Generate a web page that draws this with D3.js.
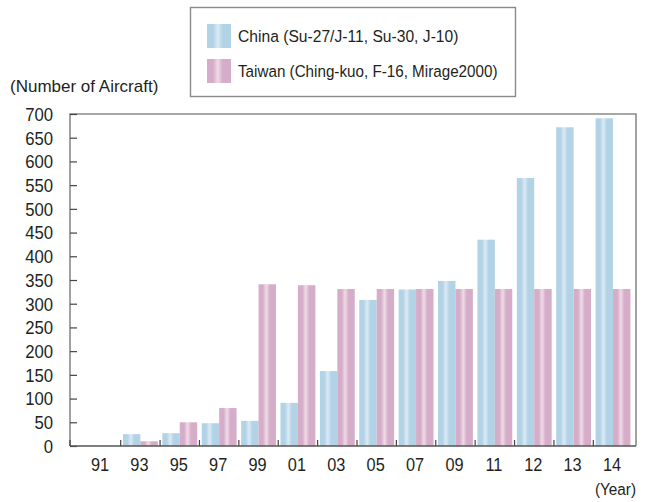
<!DOCTYPE html>
<html>
<head>
<meta charset="utf-8">
<script src="https://cdn.jsdelivr.net/npm/d3@7"></script>
<style>
  html, body { margin: 0; padding: 0; background: #fff; }
  svg { display: block; }
  text { font-family: "Liberation Sans", Arial, sans-serif; fill: #231f20; }
</style>
</head>
<body>
<svg id="chart" width="650" height="502"></svg>
<script>
// Fighter aircraft counts by year
const years = ["91", "93", "95", "97", "99", "01", "03", "05", "07", "09", "11", "12", "13", "14"];
const chinaValues  = [0, 25, 27, 48, 53, 91, 158, 308, 330, 348, 435, 565, 672, 691];
const taiwanValues = [0, 10, 50, 80, 341, 339, 331, 331, 331, 331, 331, 331, 331, 331];
const seriesNames = ["China (Su-27/J-11, Su-30, J-10)", "Taiwan (Ching-kuo, F-16, Mirage2000)"];
const yTicks = d3.range(0, 701, 50);

const svg = d3.select("#chart");
const frame = { left: 70, right: 636, top: 114, bottom: 446 };
const bandLeft = 81.3, bandRight = 632.7;

// Condensed look: squeeze text horizontally around its anchor point
function placeText(sel, px, py, sx) {
  return sel.attr("x", 0).attr("y", 0)
    .attr("transform", `translate(${px},${py}) scale(${sx},1)`);
}

// Gradients: darker edges, lighter centre stripe
const defs = svg.append("defs");
function makeGradient(id, edge, mid) {
  const g = defs.append("linearGradient").attr("id", id)
    .attr("x1", "0%").attr("x2", "100%").attr("y1", "0%").attr("y2", "0%");
  g.append("stop").attr("offset", "0%").attr("stop-color", edge);
  g.append("stop").attr("offset", "25%").attr("stop-color", edge);
  g.append("stop").attr("offset", "45%").attr("stop-color", mid);
  g.append("stop").attr("offset", "65%").attr("stop-color", edge);
  g.append("stop").attr("offset", "100%").attr("stop-color", edge);
}
makeGradient("gChina", "#b2d2e6", "#dbeaf4");
makeGradient("gTaiwan", "#d5adc9", "#efdbe8");
const fills = ["url(#gChina)", "url(#gTaiwan)"];

const x = d3.scaleBand().domain(years).range([bandLeft, bandRight]).paddingInner(0).paddingOuter(0);
const xs = d3.scaleBand().domain([0, 1]).range([0, x.bandwidth()]).paddingInner(0).paddingOuter(0.13);
const y = d3.scaleLinear().domain([0, 700]).range([frame.bottom, frame.top]);

// Frame (left, top, right)
svg.append("path")
  .attr("d", `M${frame.left},${frame.bottom} V${frame.top} H${frame.right} V${frame.bottom}`)
  .attr("fill", "none").attr("stroke", "#8a8a8a").attr("stroke-width", 1.6);

// Bars
const data = years.map((yr, i) => ({ yr, vals: [chinaValues[i], taiwanValues[i]] }));
const groups = svg.append("g").selectAll("g").data(data).join("g")
  .attr("transform", d => `translate(${x(d.yr)},0)`);
groups.selectAll("rect").data(d => d.vals.map((v, k) => ({ v, k }))).join("rect")
  .attr("x", d => xs(d.k))
  .attr("width", xs.bandwidth())
  .attr("y", d => y(d.v))
  .attr("height", d => frame.bottom - y(d.v))
  .attr("fill", d => fills[d.k]);

// Y axis: ticks pointing inward
const yAxis = d3.axisRight(y).tickValues(yTicks).tickSize(7).tickFormat("");
const yg = svg.append("g").attr("transform", `translate(${frame.left},0)`).call(yAxis);
yg.select(".domain").remove();
yg.selectAll(".tick line").attr("stroke", "#444").attr("stroke-width", 1.2);
svg.append("g").selectAll("text").data(yTicks).join("text")
  .attr("dy", "0.36em").attr("text-anchor", "end").attr("font-size", 19).text(d => d)
  .each(function (d) { placeText(d3.select(this), 53, y(d), 0.88); });

// X axis baseline and separators between groups
svg.append("line").attr("x1", frame.left).attr("x2", frame.right)
  .attr("y1", frame.bottom).attr("y2", frame.bottom)
  .attr("stroke", "#555").attr("stroke-width", 1.6);
svg.append("line").attr("x1", frame.left).attr("x2", frame.left)
  .attr("y1", frame.bottom - 6).attr("y2", frame.bottom).attr("stroke", "#444").attr("stroke-width", 1.2);
svg.append("g").selectAll("line").data(years.slice(1)).join("line")
  .attr("x1", d => x(d)).attr("x2", d => x(d))
  .attr("y1", frame.bottom - 6).attr("y2", frame.bottom)
  .attr("stroke", "#444").attr("stroke-width", 1.2);
svg.append("g").selectAll("text").data(years).join("text")
  .attr("text-anchor", "middle").attr("font-size", 19).text(d => d)
  .each(function (d) { placeText(d3.select(this), x(d) + x.bandwidth() / 2 - 1, 471, 0.86); });

// Axis titles
placeText(svg.append("text").attr("font-size", 17).text("(Number of Aircraft)"), 10, 92, 1.0);
placeText(svg.append("text").attr("text-anchor", "end").attr("font-size", 17).text("(Year)"), 636, 495, 0.9);

// Legend
const legendSqueeze = [0.92, 0.895];
const lg = svg.append("g");
lg.append("rect").attr("x", 190.5).attr("y", 7.5).attr("width", 325).attr("height", 89)
  .attr("fill", "#fff").attr("stroke", "#8a8a8a").attr("stroke-width", 1.4);
seriesNames.forEach((name, k) => {
  const top = 24 + k * 35;
  lg.append("rect").attr("x", 207).attr("y", top).attr("width", 24).attr("height", 24).attr("fill", fills[k]);
  placeText(lg.append("text").attr("font-size", 17).text(name), 238, top + 18, legendSqueeze[k]);
});
</script>
</body>
</html>
